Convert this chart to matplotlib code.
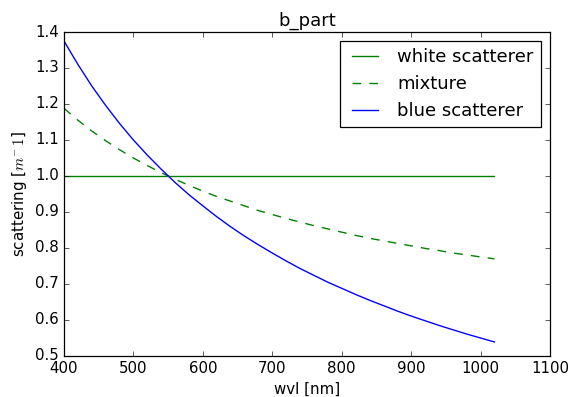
import matplotlib
matplotlib.use('Agg')

import matplotlib.pyplot as plt
from matplotlib.ticker import MultipleLocator, FormatStrFormatter

plt.style.use('classic')

# wavelengths [nm]
wvl = [400, 420, 440, 460, 480, 500, 520, 540, 560, 580, 600, 620, 640, 660,
       680, 700, 720, 740, 760, 780, 800, 820, 840, 860, 880, 900, 920, 940,
       960, 980, 1000, 1020]

white = [1.0] * len(wvl)

mixture = [1.188, 1.155, 1.125, 1.098, 1.073, 1.050, 1.029, 1.009, 0.991,
           0.974, 0.958, 0.943, 0.930, 0.917, 0.904, 0.893, 0.882, 0.872,
           0.862, 0.853, 0.844, 0.835, 0.827, 0.820, 0.813, 0.806, 0.799,
           0.793, 0.786, 0.781, 0.775, 0.770]

blue = [1.375, 1.310, 1.250, 1.196, 1.146, 1.100, 1.058, 1.019, 0.982, 0.948,
        0.917, 0.887, 0.859, 0.833, 0.809, 0.786, 0.764, 0.743, 0.724, 0.705,
        0.688, 0.671, 0.655, 0.640, 0.625, 0.611, 0.598, 0.585, 0.573, 0.561,
        0.550, 0.539]

DPI = 90
fig = plt.figure(figsize=(570 / DPI, 397 / DPI), dpi=DPI)
ax = fig.add_axes([64 / 570, 1 - 356 / 397, (550 - 64) / 570, (356 - 32) / 397])

ax.plot(wvl, white, 'g-', lw=1.1, label='white scatterer')
ax.plot(wvl, mixture, 'g--', lw=1.1, dashes=(7, 6.5), label='mixture')
ax.plot(wvl, blue, 'b-', lw=1.1, label='blue scatterer')

ax.set_xlim(400, 1100)
ax.set_ylim(0.5, 1.4)
ax.yaxis.set_major_locator(MultipleLocator(0.1))
ax.yaxis.set_major_formatter(FormatStrFormatter('%.1f'))
ax.set_title('b_part')
ax.set_xlabel('wvl [nm]')
ax.set_ylabel(r'scattering [$m^{-}\,1$]')
ax.legend()

fig.savefig('out.png', dpi=DPI, facecolor='white')
plt.close()
